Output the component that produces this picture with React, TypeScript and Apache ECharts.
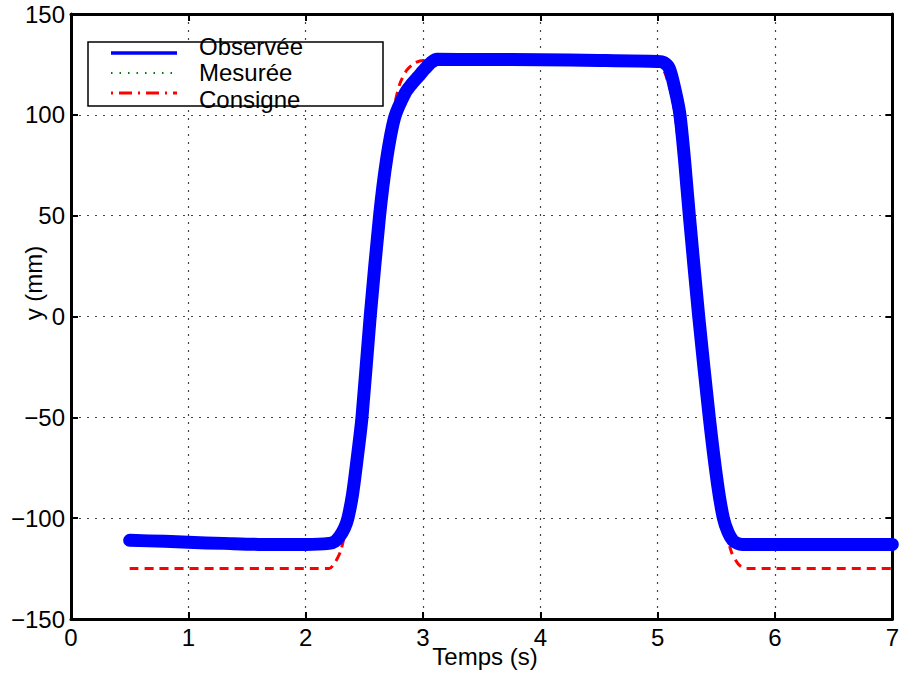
import React, { useEffect, useRef } from "react";
import * as echarts from "echarts";

// Time (s) and value (mm) arrays
const obsT = [0.5, 0.8, 1.0, 1.3, 1.6, 2.0, 2.2, 2.25, 2.29, 2.33, 2.36, 2.4, 2.44, 2.48, 2.55, 2.63, 2.69, 2.76, 2.85, 2.9, 2.96, 3.02, 3.07, 3.12, 3.5, 4.0, 4.5, 5.0, 5.05, 5.1, 5.15, 5.19, 5.23, 5.27, 5.35, 5.44, 5.51, 5.56, 5.6, 5.64, 5.68, 5.72, 6.0, 6.5, 7.0];
const obsY = [-111, -111.5, -112, -112.5, -113, -113, -112.5, -111.5, -109, -105, -100, -88, -70, -50, 0, 50, 78, 99, 111, 115, 119, 123, 126, 127.5, 127.5, 127.3, 127, 126.5, 126, 123, 112, 100, 77, 50, 0, -50, -83, -100, -107, -111, -112.5, -113, -113, -113, -113];

const mesT = [0.5, 0.8, 1.0, 1.3, 1.6, 2.0, 2.2, 2.25, 2.29, 2.33, 2.36, 2.4, 2.44, 2.48, 2.55, 2.63, 2.69, 2.76, 2.85, 2.9, 2.96, 3.02, 3.07, 3.12, 3.5, 4.0, 4.5, 5.0, 5.05, 5.1, 5.15, 5.19, 5.23, 5.27, 5.35, 5.44, 5.51, 5.56, 5.6, 5.64, 5.68, 5.72, 6.0, 6.5, 7.0];
const mesY = [-111, -111.5, -112, -112.5, -113, -113, -112.5, -111.5, -109, -105, -100, -88, -70, -50, 0, 50, 78, 99, 111, 115, 119, 123, 126, 127.5, 127.5, 127.3, 127, 126.5, 126, 123, 112, 100, 77, 50, 0, -50, -83, -100, -107, -111, -112.5, -113, -113, -113, -113];

const consT = [0.5, 2.2, 2.25, 2.3, 2.36, 2.42, 2.47, 2.545, 2.62, 2.68, 2.74, 2.8, 2.86, 2.93, 3.0, 5.0, 5.06, 5.1, 5.13, 5.17, 5.25, 5.33, 5.43, 5.5, 5.55, 5.63, 5.69, 5.75, 7.0];
const consY = [-125, -125, -122, -116, -100, -76, -50, 0, 50, 80, 100, 115, 122, 125.7, 127, 127, 121, 114, 107, 90, 50, 0, -50, -82, -100, -117, -123, -125, -125];

const xTicks = { min: 0, max: 7, interval: 1 };
const yTicks = { min: -150, max: 150, interval: 50 };
const legendNames = ["Observée", "Mesurée", "Consigne"];
const xTitle = "Temps (s)";
const yTitle = "y (mm)";

const FONT = "'Liberation Sans', Arial, Helvetica, sans-serif";

const zip = (t: number[], y: number[]) => t.map((v, i) => [v, y[i]]);
const fmt = (v: number) => String(v).replace("-", "\u2212");

export default function App() {
  const ref = useRef<HTMLDivElement>(null);

  useEffect(() => {
    document.body.style.margin = "0";
    if (!ref.current) return;
    const chart = echarts.init(ref.current, undefined, { renderer: "svg" });

    const frameAxis = {
      axisLine: { show: true, onZero: false, lineStyle: { color: "#000", width: 3 } },
      axisTick: { show: true, inside: true, length: 7, lineStyle: { color: "#000", width: 2 } },
    };
    const gridLine = { show: true, lineStyle: { type: [2, 6], color: "#444", width: 1.2 } };

    const option: any = {
      animation: false,
      backgroundColor: "#fff",
      grid: { left: 71, top: 14, right: 5, bottom: 55, containLabel: false },
      xAxis: [
        {
          type: "value", ...xTicks, position: "bottom", ...frameAxis,
          axisLabel: { color: "#000", fontSize: 24, fontFamily: FONT, margin: 6, formatter: fmt },
          splitLine: gridLine,
        },
        {
          type: "value", ...xTicks, position: "top", ...frameAxis,
          axisLabel: { show: false }, splitLine: { show: false },
        },
      ],
      yAxis: [
        {
          type: "value", ...yTicks, position: "left", ...frameAxis,
          axisLabel: { color: "#000", fontSize: 24, fontFamily: FONT, margin: 6, formatter: fmt },
          splitLine: gridLine,
        },
        {
          type: "value", ...yTicks, position: "right", ...frameAxis,
          axisLabel: { show: false }, splitLine: { show: false },
        },
      ],
      series: [
        {
          name: legendNames[2], type: "line", data: zip(consT, consY), symbol: "none",
          smooth: 0.25, z: 2,
          lineStyle: { color: "#ff0000", width: 3, type: [9, 6] },
        },
        {
          name: legendNames[1], type: "line", data: zip(mesT, mesY), symbol: "none",
          smooth: 0.25, z: 3,
          lineStyle: { color: "#008000", width: 2, type: [1.5, 7] },
        },
        {
          name: legendNames[0], type: "line", data: zip(obsT, obsY), symbol: "none",
          smooth: 0.25, z: 4,
          lineStyle: { color: "#0000ff", width: 13, cap: "round", join: "round" },
        },
      ],
      graphic: [
        {
          type: "rect", z: 100,
          shape: { x: 88, y: 42, width: 295, height: 64 },
          style: { fill: "#fff", stroke: "#000", lineWidth: 1.5 },
        },
        {
          type: "line", z: 101, shape: { x1: 111, y1: 53, x2: 177, y2: 53 },
          style: { stroke: "#0000ff", lineWidth: 3.5 },
        },
        {
          type: "line", z: 101, shape: { x1: 111, y1: 73, x2: 177, y2: 73 },
          style: { stroke: "#008000", lineWidth: 2, lineDash: [1.5, 7] },
        },
        {
          type: "line", z: 101, shape: { x1: 111, y1: 93, x2: 177, y2: 93 },
          style: { stroke: "#ff0000", lineWidth: 3, lineDash: [2, 6, 13, 6] },
        },
        {
          type: "text", z: 102,
          style: { text: legendNames[0], x: 199, y: 46, fontSize: 24, fontFamily: FONT, fill: "#000", verticalAlign: "middle" },
        },
        {
          type: "text", z: 102,
          style: { text: legendNames[1], x: 199, y: 72.5, fontSize: 24, fontFamily: FONT, fill: "#000", verticalAlign: "middle" },
        },
        {
          type: "text", z: 102,
          style: { text: legendNames[2], x: 199, y: 99, fontSize: 24, fontFamily: FONT, fill: "#000", verticalAlign: "middle" },
        },
        {
          type: "text", z: 102, x: 485, y: 656,
          style: { text: xTitle, fontSize: 24, fontFamily: FONT, fill: "#000", align: "center", verticalAlign: "middle" },
        },
        {
          type: "text", z: 102, x: 33, y: 283, rotation: Math.PI / 2,
          style: { text: yTitle, fontSize: 24, fontFamily: FONT, fill: "#000", align: "center", verticalAlign: "middle" },
        },
      ],
    };

    chart.setOption(option);
    return () => chart.dispose();
  }, []);

  return (
    <div
      ref={ref}
      style={{ position: "absolute", left: 0, top: 0, width: 902, height: 674 }}
    />
  );
}
